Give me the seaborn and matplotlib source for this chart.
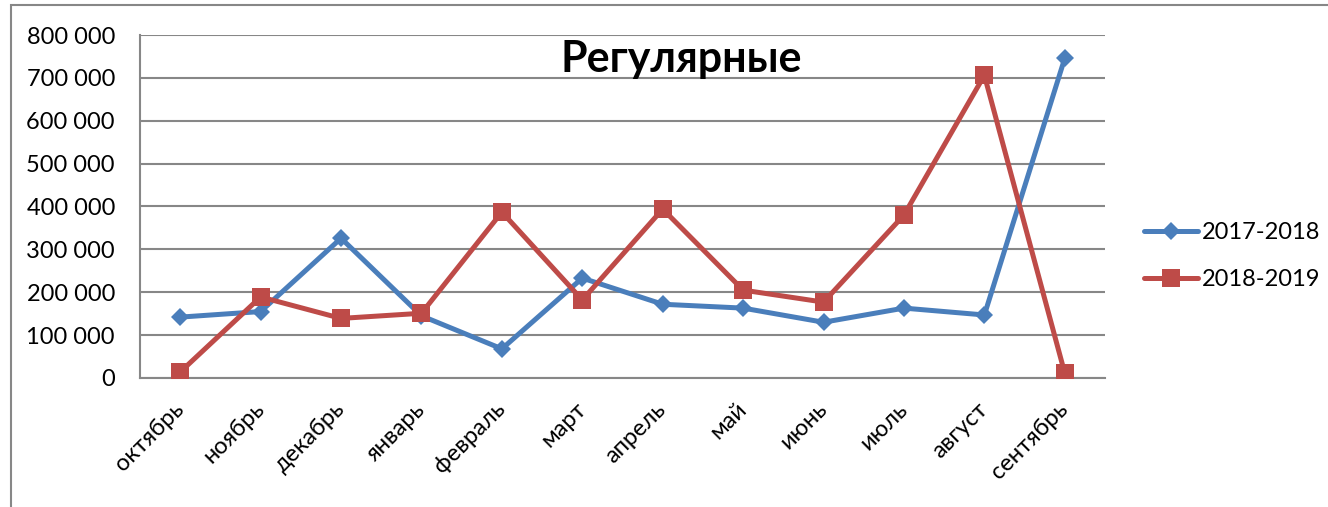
import matplotlib
matplotlib.use('Agg')
import matplotlib.pyplot as plt
import seaborn as sns
import pandas as pd
from matplotlib.patches import Rectangle
from matplotlib.ticker import FuncFormatter, FixedLocator

# data
months = ['октябрь', 'ноябрь', 'декабрь', 'январь', 'февраль', 'март',
          'апрель', 'май', 'июнь', 'июль', 'август', 'сентябрь']
season_2017_2018 = [142000, 155000, 326000, 145000, 68000, 233000,
                    172000, 163000, 130000, 163000, 147000, 746000]
season_2018_2019 = [14000, 189000, 139000, 151000, 387000, 182000,
                    394000, 205000, 177000, 380000, 706000, 11000]

df = pd.DataFrame({'month': months,
                   '2017-2018': season_2017_2018,
                   '2018-2019': season_2018_2019})

sns.set_style('white')
plt.rcParams['font.family'] = ['Lato', 'DejaVu Sans']
plt.rcParams['text.color'] = 'black'
plt.rcParams['xtick.labelcolor'] = 'black'
plt.rcParams['ytick.labelcolor'] = 'black'

blue = '#4A7EBB'
red = '#BE4B48'
grid_col = '#878787'

fig = plt.figure(figsize=(13.28, 5.07), dpi=100)
ax = fig.add_axes([140 / 1328, 1 - 378 / 507, (1105 - 140) / 1328, (378 - 35) / 507])

sns.lineplot(data=df, x='month', y='2017-2018', sort=False, ax=ax, color=blue,
             marker='D', markersize=9.5, markeredgewidth=0, linewidth=3.6,
             label='2017-2018', zorder=3)
sns.lineplot(data=df, x='month', y='2018-2019', sort=False, ax=ax, color=red,
             marker='s', markersize=13, markeredgewidth=0, linewidth=3.6,
             label='2018-2019', zorder=4)

ax.set_xlim(-0.5, len(months) - 0.5)
ax.set_ylim(0, 800000)
ax.set_yticks(range(0, 800001, 100000))
ax.yaxis.set_major_formatter(FuncFormatter(lambda v, p: f'{int(v):,}'.replace(',', ' ')))
ax.grid(axis='y', color=grid_col, linewidth=1.5)
ax.set_axisbelow(True)
ax.set_xlabel('')
ax.set_ylabel('')

ax.set_xticks(range(len(months)))
ax.set_xticklabels(months, rotation=45, ha='right', va='center', rotation_mode='anchor')
ax.xaxis.set_minor_locator(FixedLocator([i - 0.5 for i in range(len(months) + 1)]))
ax.tick_params(axis='x', which='major', length=0, pad=20, labelsize=17)
ax.tick_params(axis='x', which='minor', length=6, width=1.5, color=grid_col, direction='out')
ax.tick_params(axis='y', length=6, width=1.5, color=grid_col, direction='out', pad=12, labelsize=17)

for side in ['top', 'right']:
    ax.spines[side].set_visible(False)
for side in ['left', 'bottom']:
    ax.spines[side].set_color(grid_col)
    ax.spines[side].set_linewidth(1.5)

ax.text(0.561, 0.93, 'Регулярные', transform=ax.transAxes, ha='center', va='center',
        fontsize=31, fontweight='bold', color='black')

ax.legend(loc='center left', bbox_to_anchor=(1144 / 1328, 1 - 256 / 507),
          bbox_transform=fig.transFigure, frameon=False, borderaxespad=0, borderpad=0,
          fontsize=17, handlelength=2.3, labelspacing=1.1, handletextpad=0.15)

# outer chart border
fig.patches.append(Rectangle((11 / 1328, -0.1), 1.1, 1.1 - 5 / 507, transform=fig.transFigure,
                             fill=False, edgecolor=grid_col, linewidth=1.5))

fig.savefig('out.png', dpi=100)
